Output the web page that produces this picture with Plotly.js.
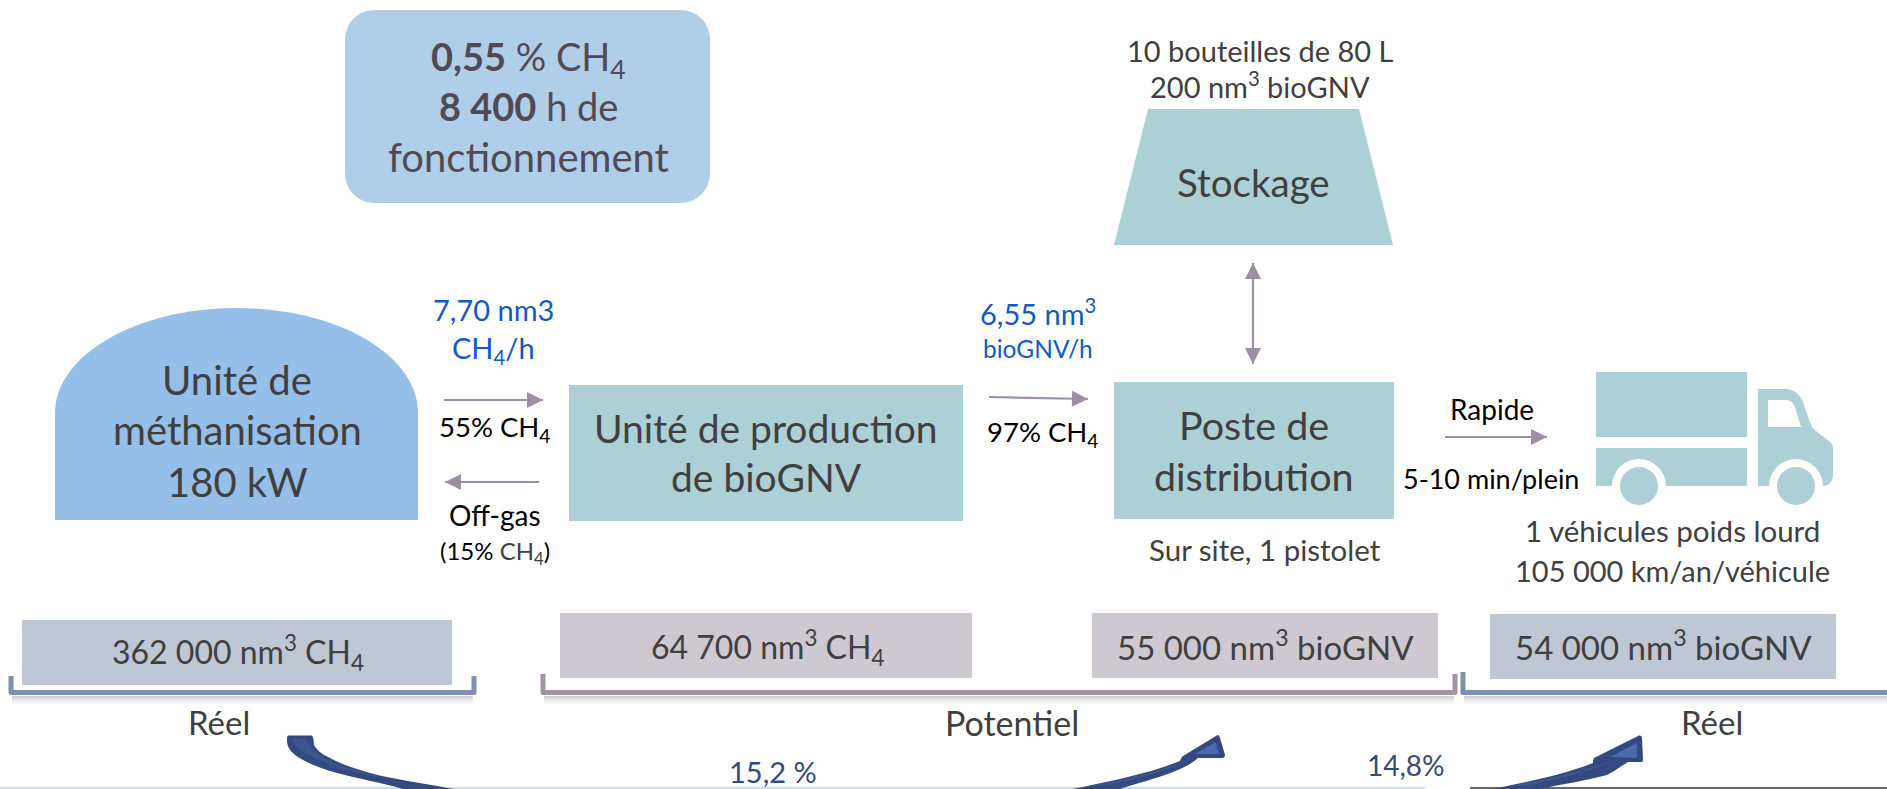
<!DOCTYPE html>
<html lang="fr"><head><meta charset="utf-8">
<script src="https://cdn.plot.ly/plotly-3.0.1.min.js"></script>
<style>html,body{margin:0;padding:0;background:#fff;overflow:hidden}#c{width:1887px;height:789px}
svg text{font-variant-ligatures:none}svg .shapelayer path{stroke-linejoin:round}</style>
</head><body><div id="c"></div>
<script>
// ---- content of the diagram
const kpiLines = ['<b>0,55</b> % CH<sub>4</sub>', '<b>8 400</b> h de', 'fonctionnement'];
const unitMethan = ['Unité de', 'méthanisation', '180 kW'];
const unitProd = ['Unité de production', 'de bioGNV'];
const unitPoste = ['Poste de', 'distribution'];
const unitStock = ['Stockage'];
const stockNote = ['10 bouteilles de 80 L', '200 nm<sup>3</sup> bioGNV'];
const flowIn = ['7,70 nm3', 'CH<sub>4</sub>/h'];
const flowOut = ['6,55 nm<sup>3</sup>', 'bioGNV/h'];
const gasLabels = ['55% CH<sub>4</sub>', 'Off-gas', '(15% <span style="color:#404040">CH<sub>4</sub></span>)', '97% CH<sub>4</sub>', 'Rapide', '5-10 min/plein'];
const siteNote = ['Sur site, 1 pistolet'];
const truckNote = ['1 véhicules poids lourd', '105 000 km/an/véhicule'];
const volumes = ['362 000 nm<sup>3</sup> CH<sub>4</sub>', '64 700 nm<sup>3</sup> CH<sub>4</sub>', '55 000 nm<sup>3</sup> bioGNV', '54 000 nm<sup>3</sup> bioGNV'];
const statusLabels = ['Réel', 'Potentiel', 'Réel'];
const rates = ['15,2 %', '14,8%'];

// ---- drawing helpers (page-pixel axes)
const FONT = 'Lato, Carlito, sans-serif';
const TEAL = '#ADCFD6', DARK = '#404040', BLUE = '#1159C7', ARROW = '#9D8FA3';
const shapes = [], annotations = [];
const poly = (d, fill, extra) => shapes.push(Object.assign({type:'path', xref:'x', yref:'y', path:d, fillcolor:fill, line:{width:0}, layer:'above'}, extra||{}));
const rect = (x0,y0,x1,y1,fill) => shapes.push({type:'rect',xref:'x',yref:'y',x0,y0,x1,y1,fillcolor:fill,line:{width:0},layer:'above'});
const circ = (cx,cy,r,fill) => shapes.push({type:'circle',xref:'x',yref:'y',x0:cx-r,y0:cy-r,x1:cx+r,y1:cy+r,fillcolor:fill,line:{width:0},layer:'above'});
const line = (x0,y0,x1,y1,color,w) => shapes.push({type:'line',xref:'x',yref:'y',x0,y0,x1,y1,line:{color,width:w},layer:'above'});
function head(x0,y0,x1,y1,len,hw){
  const L=Math.hypot(x1-x0,y1-y0),ux=(x1-x0)/L,uy=(y1-y0)/L,bx=x1-ux*len,by=y1-uy*len;
  poly(`M${x1},${y1} L${bx-uy*hw},${by+ux*hw} L${bx+uy*hw},${by-ux*hw} Z`, ARROW);
}
function arrow(x0,y0,x1,y1,dbl){
  line(x0,y0,x1,y1,ARROW,2.2); head(x0,y0,x1,y1,16,8); if(dbl) head(x1,y1,x0,y0,16,8);
}
function text(t,x,y,size,color,font){
  annotations.push({text:t,x,y,xref:'x',yref:'y',xanchor:'center',yanchor:'middle',showarrow:false,borderpad:0,
    font:{family:font||FONT,size,color}});
}
function bracket(x0,x1,yTop,yBot,color){
  [[4.5,0.30],[6.5,0.20],[8.5,0.12],[10.5,0.06]].forEach(s=>{
    line(x0+1,yBot+s[0],x1-1,yBot+s[0],`rgba(110,110,110,${s[1]})`,2);
  });
  poly(`M${x0},${yTop} L${x0},${yBot} L${x1},${yBot} L${x1},${yTop}`, 'rgba(0,0,0,0)', {line:{color,width:5}});
}

// ---- KPI box
poly('M375,10 L680,10 C697,10 710,23 710,40 L710,173 C710,190 697,203 680,203 L375,203 C358,203 345,190 345,173 L345,40 C345,23 358,10 375,10 Z','#B0CEE8');
// ---- units
poly('M55,520 L55,413 C55,355 136.5,308 237,308 C337.5,308 418,355 418,413 L418,520 Z','#95BEE9');
rect(569,385,963,521,TEAL);
rect(1114,382,1394,519,TEAL);
poly('M1148,109 L1359,109 L1393,245 L1114,245 Z',TEAL);
// ---- truck
rect(1596,372,1747,437,TEAL);
rect(1596,448,1747,486,TEAL);
poly('M1758,389 L1785,389 C1795,389 1802,396 1804,405 L1811,425 C1812,428 1814,429 1816,431 L1829,441 C1832,443 1833,446 1833,449 L1833,475 C1833,481 1829,486 1823,486 L1758,486 Z',TEAL);
poly('M1768,400 L1785,400 C1790,400 1793,402 1795,407 L1801,427 L1768,427 Z','#FFFFFF');
rect(1610,486,1668,500,'#FFFFFF');
rect(1770,486,1822,500,'#FFFFFF');
circ(1639,486,27,'#FFFFFF'); circ(1639,486,19,TEAL);
circ(1796,486,27,'#FFFFFF'); circ(1796,486,19,TEAL);
// ---- flow arrows
arrow(444,400,543,400);
arrow(539,482,445,482);
arrow(989,397,1088,399);
arrow(1445,437,1547,437);
arrow(1253,263,1253,364,true);
// ---- volume boxes
rect(22,620,452,685,'#BFC7D5');
rect(560,613,972,678,'#CEC8D0');
rect(1092,613,1438,678,'#CEC8D0');
rect(1490,614,1836,679,'#BFC7D5');
// ---- brackets
bracket(11,474,676,692.5,'#7F90AD');
bracket(543,1455,674,692.5,'#A293A6');
bracket(1463,1895,672,692.5,'#7F90AD');
// ---- bottom rule
line(0,788,1425,788,'#B5D0F0',1.5);
line(1470,788,1887,788,'#333333',1.5);
// ---- curved arrows
const NAVY='#34497F', MID='#4A68AE';
poly('M289,735.5 L311,735.5 C313,735.5 313.5,738 314,745 C318,752 324,755 330,758 C343,765 356,769 370,773 C395,780 425,783 453,789 L403,789 C380,782 358,779 337,773 C323,769 312,765 303,760 C292,754 287,748 287,741 C287,737 287,735.5 289,735.5 Z',NAVY);
poly('M293,739 L306,739 C310,750 322,757 335,763 C350,769 365,773 385,778 C360,774 338,768 322,761 C304,754 295,748 293,739 Z','#3D558F');
poly('M1073,789 C1105,782 1145,775 1180,761 C1181,759 1181,757 1183,756 L1216,736 C1218,734 1219,735 1220,738 L1225,755 C1225,757 1224,758 1222,758 L1198,758 C1190,765 1181,769 1173,772 C1155,779 1138,783 1120,789 Z',NAVY);
poly('M1195,754 L1214,743 C1215,742 1216,743 1216,744 L1219,752 C1219,754 1218,754 1217,754 Z',MID);
poly('M1090,786 C1125,780 1155,773 1190,759 C1170,770 1140,779 1110,785 Z','#3D558F');
poly('M1493,789 C1525,782 1560,776 1593,763 C1593,760 1593,758 1596,757 L1638,736 C1640,735 1642,736 1642,738 L1643,760 C1643,762 1642,762 1640,762 L1628,762 C1620,767 1613,772 1607,775 C1585,781 1562,784 1540,789 Z',NAVY);
poly('M1610,757 L1635,744 C1636,743 1637,744 1637,745 L1637,757 C1637,758 1636,758 1635,758 Z',MID);
poly('M1510,786 C1545,780 1580,772 1615,760 C1595,770 1560,779 1530,785 Z','#3D558F');

// ---- text
text(kpiLines[0],528,59,38,'#514A55');
text(kpiLines[1],528,106,38,'#514A55');
text(kpiLines[2],528,157,40,'#514A55');
[380,430,482].forEach((y,i)=>text(unitMethan[i],237,y,40,DARK));
[428,477].forEach((y,i)=>text(unitProd[i],766,y,39,DARK));
[424,475].forEach((y,i)=>text(unitPoste[i],1254,y,39.5,DARK));
text(unitStock[0],1253,182,38.5,DARK);
[50,85].forEach((y,i)=>text(stockNote[i],1260,y,29,DARK));
text(flowIn[0],493,309,29,BLUE); text(flowIn[1],493,349,29,BLUE);
text(flowOut[0],1038,312,29,BLUE); text(flowOut[1],1038,348,24.5,BLUE);
text(gasLabels[0],495,428,27.5,'#000');
text(gasLabels[1],495,515,28,'#000');
text(gasLabels[2],495,552,24,'#000');
text(gasLabels[3],1043,433,27.5,'#000');
text(gasLabels[4],1492,409,28,'#000');
text(gasLabels[5],1491,478,27,'#000');
text(siteNote[0],1265,549,29.5,DARK);
text(truckNote[0],1672,530,29.5,DARK);
text(truckNote[1],1672,570,29,DARK);
text(volumes[0],238,652,32,DARK);
text(volumes[1],767,647,32,DARK);
text(volumes[2],1265,645,33,DARK);
text(volumes[3],1663,645,33,DARK);
text(statusLabels[0],219,722,33,DARK);
text(statusLabels[1],1012,722,34,DARK);
text(statusLabels[2],1712,722,33,DARK);
text(rates[0],773,771,29,NAVY);
text(rates[1],1406,765,28,NAVY);

Plotly.newPlot('c',[],{
  width:1887,height:789,margin:{l:0,r:0,t:0,b:0},paper_bgcolor:'#fff',plot_bgcolor:'#fff',showlegend:false,
  xaxis:{range:[0,1887],visible:false,fixedrange:true},
  yaxis:{range:[789,0],visible:false,fixedrange:true},
  shapes,annotations
},{displayModeBar:false,staticPlot:true});
</script></body></html>
